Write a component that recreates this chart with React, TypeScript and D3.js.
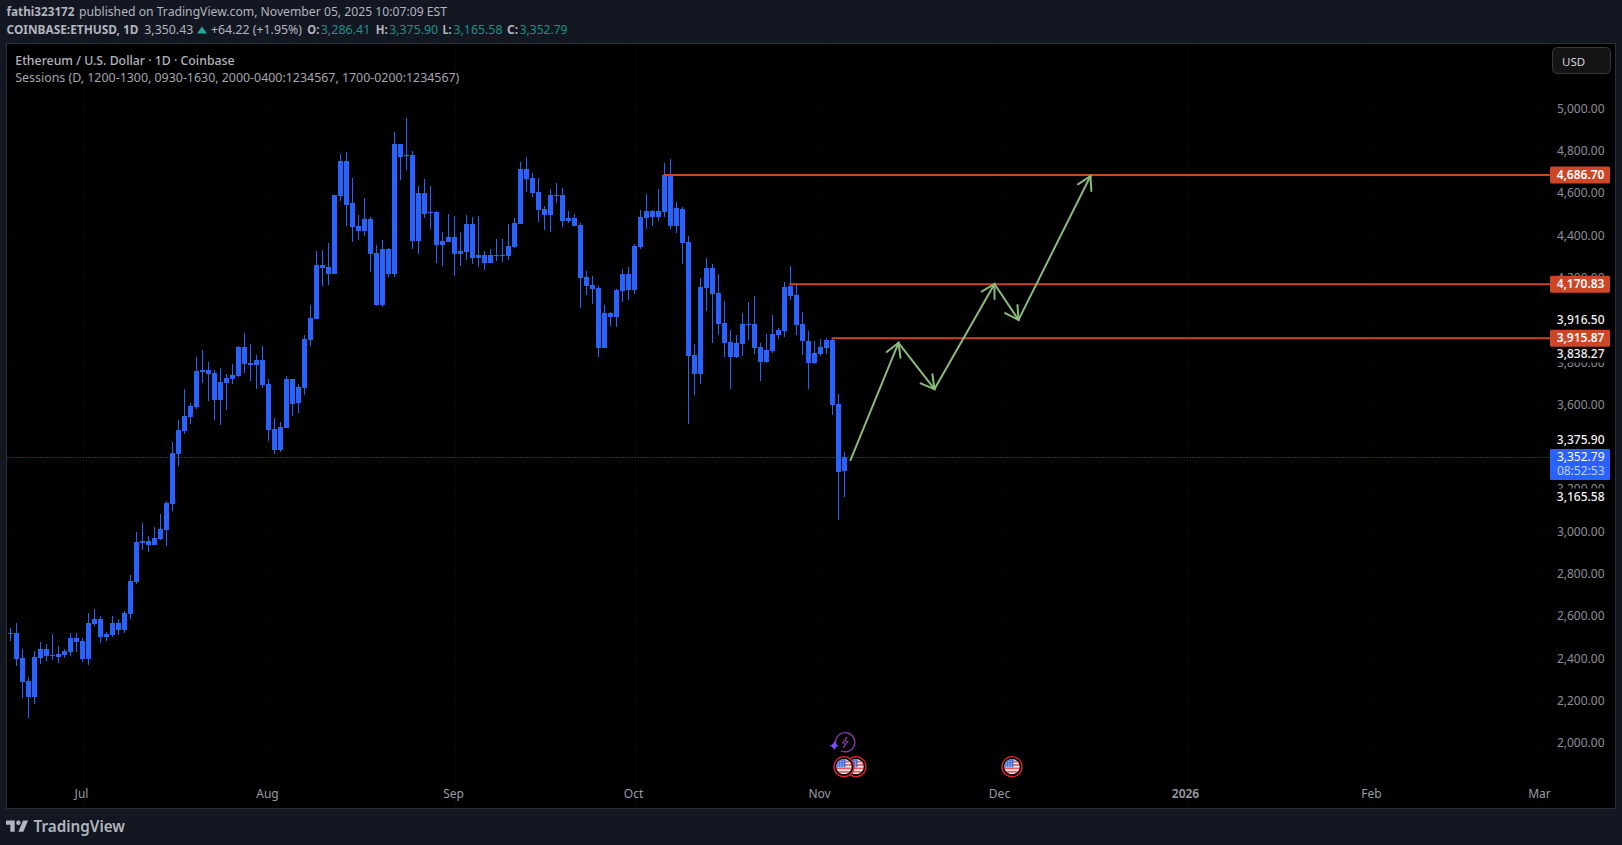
import React, { useEffect, useRef } from 'react';
import * as d3 from 'd3';

const WIDTH = 1622;
const HEIGHT = 845;
const FONT = '"Noto Sans", sans-serif';

// daily candles, first one is 19 Jun 2025, last one 5 Nov 2025
const firstDay = Date.UTC(2025, 5, 19);
const DAY = 86400000;

const candleHigh = [
  2546, 2570, 2447, 2315, 2437, 2480, 2471, 2518, 2461, 2447,
  2522, 2522, 2499, 2617, 2636, 2603, 2527, 2603, 2589, 2626,
  2797, 3000, 3042, 2981, 3023, 3085, 3146, 3425, 3529, 3676,
  3609, 3827, 3860, 3803, 3765, 3775, 3746, 3794, 3879, 3940,
  3888, 3836, 3879, 3723, 3538, 3520, 3737, 3723, 3699, 3931,
  4073, 4328, 4332, 4365, 4592, 4786, 4796, 4673, 4498, 4578,
  4488, 4356, 4380, 4342, 4890, 4833, 4956, 4800, 4635, 4668,
  4635, 4517, 4417, 4503, 4493, 4417, 4498, 4488, 4493, 4328,
  4337, 4384, 4384, 4455, 4484, 4748, 4772, 4696, 4673, 4540,
  4621, 4649, 4625, 4517, 4503, 4460, 4233, 4210, 4162, 4073,
  4039, 4148, 4243, 4252, 4361, 4521, 4597, 4521, 4621, 4743,
  4762, 4559, 4536, 4399, 3888, 4200, 4295, 4266, 4219, 4091,
  3954, 3931, 4035, 4087, 4115, 3893, 3935, 4025, 3964, 4181,
  4257, 4176, 4039, 3950, 3902, 3912, 3917, 3917, 3652, 3375.9,
];

const candleTop = [
  2522, 2522, 2404, 2296, 2409, 2447, 2447, 2419, 2423, 2437,
  2499, 2499, 2485, 2570, 2589, 2589, 2518, 2570, 2570, 2617,
  2768, 2952, 2957, 2957, 2971, 3014, 3137, 3373, 3482, 3548,
  3595, 3761, 3765, 3765, 3751, 3709, 3728, 3742, 3874, 3874,
  3798, 3813, 3813, 3699, 3486, 3496, 3723, 3723, 3685, 3912,
  4011, 4262, 4262, 4252, 4592, 4753, 4753, 4555, 4446, 4479,
  4479, 4318, 4337, 4337, 4833, 4833, 4781, 4781, 4602, 4602,
  4512, 4512, 4375, 4394, 4394, 4328, 4455, 4455, 4309, 4309,
  4309, 4309, 4309, 4351, 4460, 4715, 4715, 4673, 4606, 4526,
  4592, 4592, 4592, 4484, 4484, 4451, 4205, 4167, 4153, 4035,
  4035, 4143, 4219, 4219, 4351, 4488, 4517, 4517, 4517, 4687,
  4687, 4531, 4526, 4370, 3836, 4158, 4247, 4247, 4129, 3987,
  3898, 3893, 3983, 3983, 3983, 3874, 3860, 3935, 3954, 4158,
  4162, 4120, 3983, 3902, 3846, 3874, 3907, 3907, 3605, 3352.79,
];

const candleBottom = [
  2518, 2400, 2291, 2220, 2220, 2404, 2414, 2414, 2409, 2419,
  2433, 2480, 2400, 2400, 2565, 2504, 2504, 2513, 2537, 2537,
  2612, 2763, 2948, 2938, 2938, 2967, 3009, 3132, 3368, 3477,
  3543, 3591, 3756, 3746, 3624, 3624, 3704, 3723, 3737, 3794,
  3789, 3789, 3695, 3482, 3387, 3387, 3491, 3605, 3609, 3680,
  3907, 4006, 4247, 4219, 4219, 4588, 4545, 4441, 4422, 4422,
  4314, 4072, 4072, 4219, 4219, 4772, 4777, 4375, 4375, 4503,
  4507, 4356, 4356, 4370, 4314, 4314, 4323, 4295, 4295, 4271,
  4271, 4304, 4304, 4304, 4347, 4455, 4668, 4602, 4521, 4498,
  4498, 4588, 4469, 4469, 4446, 4200, 4162, 4148, 3869, 3869,
  4016, 4016, 4139, 4143, 4143, 4347, 4484, 4488, 4488, 4512,
  4446, 4446, 4365, 3831, 3746, 3746, 4153, 4124, 3983, 3893,
  3827, 3827, 3888, 3978, 3869, 3803, 3803, 3855, 3931, 3950,
  4115, 3978, 3902, 3798, 3798, 3841, 3869, 3600, 3283, 3286.41,
];

const candleLow = [
  2485, 2367, 2215, 2121, 2187, 2376, 2390, 2395, 2381, 2404,
  2414, 2433, 2385, 2371, 2556, 2475, 2485, 2504, 2513, 2522,
  2589, 2754, 2915, 2905, 2938, 2962, 2934, 3099, 3312, 3463,
  3510, 3581, 3704, 3619, 3529, 3505, 3576, 3699, 3732, 3751,
  3713, 3676, 3680, 3430, 3368, 3380, 3491, 3548, 3562, 3647,
  3879, 4006, 4162, 4167, 4219, 4564, 4446, 4370, 4380, 4399,
  4228, 4068, 4063, 4205, 4205, 4663, 4710, 4337, 4314, 4484,
  4432, 4271, 4257, 4370, 4210, 4257, 4285, 4266, 4252, 4238,
  4271, 4280, 4276, 4285, 4342, 4455, 4606, 4583, 4465, 4427,
  4417, 4554, 4441, 4460, 4446, 4058, 4120, 4077, 3827, 3869,
  3973, 3969, 4087, 4096, 4124, 4337, 4432, 4446, 4469, 4488,
  4432, 4413, 4266, 3510, 3647, 3699, 4044, 3893, 3931, 3827,
  3676, 3822, 3831, 3907, 3841, 3713, 3798, 3846, 3912, 3921,
  4096, 3931, 3836, 3676, 3794, 3831, 3841, 3553, 3056, 3165.58,
];

const priceTicks = [2000, 2200, 2400, 2600, 2800, 3000, 3200, 3400, 3600, 3800, 4000, 4200, 4400, 4600, 4800, 5000];
// these two sit fully behind the axis marks, only their grid lines show
const hiddenTickLabels = [3400, 4000];
const monthTicks = [
  new Date(Date.UTC(2025, 6, 1)),
  new Date(Date.UTC(2025, 7, 1)),
  new Date(Date.UTC(2025, 8, 1)),
  new Date(Date.UTC(2025, 9, 1)),
  new Date(Date.UTC(2025, 10, 1)),
  new Date(Date.UTC(2025, 11, 1)),
  new Date(Date.UTC(2026, 0, 1)),
  new Date(Date.UTC(2026, 1, 1)),
  new Date(Date.UTC(2026, 2, 1)),
];
const monthLabels = ['Jul', 'Aug', 'Sep', 'Oct', 'Nov', 'Dec', '2026', 'Feb', 'Mar'];

// drawn levels: price and the day they start on
const levelPrices = [4686.7, 4170.83, 3915.87];
const levelStarts = [
  new Date(Date.UTC(2025, 9, 6)),
  new Date(Date.UTC(2025, 9, 27)),
  new Date(Date.UTC(2025, 10, 3)),
];

// projected path
const pathDates = [
  new Date(Date.UTC(2025, 10, 6)),
  new Date(Date.UTC(2025, 10, 14)),
  new Date(Date.UTC(2025, 10, 20)),
  new Date(Date.UTC(2025, 10, 30)),
  new Date(Date.UTC(2025, 11, 4)),
  new Date(Date.UTC(2025, 11, 16)),
];
const pathPrices = [3340, 3894, 3675, 4172, 4002, 4682];

const lastPrice = 3352.79;
const ohlcMarks = [
  { text: '3,916.50', y: 320 },
  { text: '3,838.27', y: 354 },
  { text: '3,375.90', y: 440 },
  { text: '3,165.58', y: 497 },
];

const flagDates = [
  new Date(Date.UTC(2025, 10, 5)),
  new Date(Date.UTC(2025, 10, 7)),
  new Date(Date.UTC(2025, 11, 3)),
];

const PANE = { left: 6.5, top: 43.5, right: 1615.5, bottom: 808.5 };
const AXIS_TEXT_RIGHT = 1604.5;
const LABEL_LEFT = 1550;
const LABEL_RIGHT = 1610;

const xScale = d3.scaleUtc()
  .domain([new Date(firstDay), new Date(Date.UTC(2026, 2, 1))])
  .range([10.5, 1540.5]);

const yScale = d3.scaleLinear().domain([2000, 5000]).range([743.6, 108.7]);

const App: React.FC = () => {
  const svgRef = useRef<SVGSVGElement>(null);

  useEffect(() => {
    if (!svgRef.current) return;
    const svg = d3.select(svgRef.current);
    svg.selectAll('*').remove();

    svg.append('rect').attr('width', WIDTH).attr('height', HEIGHT).attr('fill', '#131722');
    svg.append('rect')
      .attr('x', PANE.left).attr('y', PANE.top)
      .attr('width', PANE.right - PANE.left).attr('height', PANE.bottom - PANE.top)
      .attr('fill', '#000').attr('stroke', '#2a2e39');

    const defs = svg.append('defs');
    defs.append('clipPath').attr('id', 'flag-clip').append('circle').attr('r', 7.6);

    // Grid
    const grid = svg.append('g').attr('stroke', '#ffffff').attr('stroke-opacity', 0.02);
    priceTicks.forEach(p => {
      const y = Math.round(yScale(p)) + 0.5;
      grid.append('line').attr('x1', PANE.left + 1).attr('x2', PANE.right - 1).attr('y1', y).attr('y2', y);
    });
    monthTicks.forEach(d => {
      const x = Math.round(xScale(d)) + 0.5;
      grid.append('line').attr('x1', x).attr('x2', x).attr('y1', PANE.top + 1).attr('y2', PANE.bottom - 1);
    });

    // Candles
    const candles = svg.append('g').attr('fill', '#2962ff');
    candleHigh.forEach((high, i) => {
      const x = xScale(new Date(firstDay + i * DAY));
      const top = Math.round(yScale(candleTop[i]));
      const bottom = Math.round(yScale(candleBottom[i]));
      const wickTop = Math.round(yScale(high));
      const wickBottom = Math.round(yScale(candleLow[i]));
      candles.append('rect')
        .attr('x', x - 0.5).attr('y', wickTop)
        .attr('width', 1).attr('height', wickBottom - wickTop);
      candles.append('rect')
        .attr('x', x - 2.5).attr('y', top)
        .attr('width', 5).attr('height', Math.max(1, bottom - top));
    });

    // Last price dotted line
    const lastY = Math.round(yScale(lastPrice)) + 0.5;
    svg.append('line')
      .attr('x1', PANE.left + 1).attr('x2', LABEL_LEFT)
      .attr('y1', lastY).attr('y2', lastY)
      .attr('stroke', '#2962ff').attr('stroke-dasharray', '1 2');

    // Levels
    levelPrices.forEach((p, i) => {
      svg.append('line')
        .attr('x1', xScale(levelStarts[i]) - 1).attr('x2', LABEL_LEFT)
        .attr('y1', yScale(p)).attr('y2', yScale(p))
        .attr('stroke', '#cc4628').attr('stroke-width', 2);
    });

    // Projected arrows
    const arrows = svg.append('g')
      .attr('stroke', '#8abb7a').attr('stroke-width', 2).attr('fill', 'none').attr('stroke-linecap', 'round');
    const pts = pathDates.map((d, i) => [xScale(d), yScale(pathPrices[i])]);
    pts.slice(1).forEach((tip, i) => {
      const from = pts[i];
      const ang = Math.atan2(tip[1] - from[1], tip[0] - from[0]);
      const headLen = 15;
      const spread = 0.52;
      const head = [ang + Math.PI - spread, ang + Math.PI + spread]
        .map(a => [tip[0] + headLen * Math.cos(a), tip[1] + headLen * Math.sin(a)]);
      arrows.append('path').attr('d', d3.line()([from, tip] as [number, number][]));
      arrows.append('path').attr('d', d3.line()([head[0], tip, head[1]] as [number, number][]));
    });

    // Price axis
    const yAxis = svg.append('g')
      .attr('transform', `translate(${AXIS_TEXT_RIGHT},-0.5)`)
      .call(d3.axisLeft(yScale)
        .tickValues(priceTicks.filter(p => !hiddenTickLabels.includes(p)))
        .tickFormat(d3.format(',.2f') as any).tickSize(0).tickPadding(0));
    yAxis.select('.domain').remove();
    yAxis.selectAll('text')
      .attr('fill', '#8c8f98').style('font-family', FONT).style('font-size', '12px');

    // Time axis
    const xAxis = svg.append('g')
      .attr('transform', 'translate(-1.5,789)')
      .call(d3.axisBottom(xScale).tickValues(monthTicks).tickFormat((_, i) => monthLabels[i]).tickSize(0).tickPadding(0));
    xAxis.select('.domain').remove();
    xAxis.selectAll('text')
      .attr('fill', '#9a9da6').style('font-family', FONT).style('font-size', '12px')
      .style('font-weight', (_, i) => (monthLabels[i] === '2026' ? 600 : 400));

    // Open/high/low/close marks on the axis
    ohlcMarks.forEach(m => {
      svg.append('rect')
        .attr('x', LABEL_LEFT).attr('y', m.y - 8.5)
        .attr('width', LABEL_RIGHT - LABEL_LEFT).attr('height', 17).attr('fill', '#000');
      svg.append('text')
        .attr('x', AXIS_TEXT_RIGHT).attr('y', m.y + 4.3)
        .attr('text-anchor', 'end').attr('fill', '#f2f2f2')
        .style('font-family', FONT).style('font-size', '12px').style('font-weight', 500)
        .text(m.text);
    });

    // Level labels
    levelPrices.forEach(p => {
      const y = yScale(p);
      svg.append('rect')
        .attr('x', LABEL_LEFT).attr('y', y - 8.5)
        .attr('width', LABEL_RIGHT - LABEL_LEFT).attr('height', 17)
        .attr('rx', 1.5).attr('fill', '#cc4628');
      svg.append('text')
        .attr('x', AXIS_TEXT_RIGHT).attr('y', y + 4.3)
        .attr('text-anchor', 'end').attr('fill', '#fff')
        .style('font-family', FONT).style('font-size', '12px').style('font-weight', 600)
        .text(d3.format(',.2f')(p));
    });

    // Last price label
    svg.append('rect')
      .attr('x', LABEL_LEFT).attr('y', 449)
      .attr('width', LABEL_RIGHT - LABEL_LEFT).attr('height', 31)
      .attr('rx', 1.5).attr('fill', '#2962ff');
    svg.append('text')
      .attr('x', AXIS_TEXT_RIGHT).attr('y', 461.3)
      .attr('text-anchor', 'end').attr('fill', '#fff')
      .style('font-family', FONT).style('font-size', '12px')
      .text(d3.format(',.2f')(lastPrice));
    svg.append('text')
      .attr('x', AXIS_TEXT_RIGHT).attr('y', 475.3)
      .attr('text-anchor', 'end').attr('fill', '#bfd0ff')
      .style('font-family', FONT).style('font-size', '12px')
      .text('08:52:53');

    // USD button
    svg.append('rect')
      .attr('x', 1552.5).attr('y', 47.5).attr('width', 58).attr('height', 26).attr('rx', 5)
      .attr('fill', '#141414').attr('stroke', '#3a3a3a');
    svg.append('text')
      .attr('x', 1562).attr('y', 66)
      .attr('fill', '#d1d4dc').style('font-family', FONT).style('font-size', '11.5px')
      .text('USD');

    // Header and legend text
    const label = (x: number, y: number, text: string, fill: string, weight = 400, size = 13, len?: number) => {
      const t = svg.append('text')
        .attr('x', x).attr('y', y).attr('fill', fill)
        .style('font-family', FONT).style('font-size', `${size}px`).style('font-weight', weight)
        .text(text);
      if (len) t.attr('textLength', len).attr('lengthAdjust', 'spacingAndGlyphs');
    };
    const headColor = '#b2b5be';
    const valueColor = '#1f8f85';
    label(6.5, 16, 'fathi323172', headColor, 700, 13, 68);
    label(79, 16, 'published on TradingView.com, November 05, 2025 10:07:09 EST', headColor, 400, 13, 368);
    label(6.5, 33.5, 'COINBASE:ETHUSD, 1D', headColor, 700, 13, 132);
    label(144.3, 33.5, '3,350.43', headColor, 400, 13, 49);
    svg.append('path').attr('d', 'M202 26.5L207 33.5H197Z').attr('fill', '#26a69a');
    label(211, 33.5, '+64.22 (+1.95%)', headColor, 400, 13, 91);
    label(307.3, 33.5, 'O:', headColor, 700, 13, 12);
    label(320.7, 33.5, '3,286.41', valueColor, 400, 13, 49.8);
    label(375.8, 33.5, 'H:', headColor, 700, 13, 12);
    label(389.2, 33.5, '3,375.90', valueColor, 400, 13, 49);
    label(442.4, 33.5, 'L:', headColor, 700, 13, 9);
    label(453.5, 33.5, '3,165.58', valueColor, 400, 13, 49);
    label(507, 33.5, 'C:', headColor, 700, 13, 11);
    label(519.7, 33.5, '3,352.79', valueColor, 400, 13, 47.8);
    label(15.3, 65, 'Ethereum / U.S. Dollar · 1D · Coinbase', headColor, 500, 13, 219.3);
    label(15.3, 82, 'Sessions (D, 1200-1300, 0930-1630, 2000-0400:1234567, 1700-0200:1234567)', '#a3a6af', 400, 13, 444);

    // Event icons
    const eventX = xScale(new Date(Date.UTC(2025, 10, 5)));
    const bolt = svg.append('g').attr('transform', `translate(${eventX + 0.7},742.3)`);
    bolt.append('path')
      .attr('d', d3.arc()({ innerRadius: 9.6, outerRadius: 9.6, startAngle: -1.9, endAngle: 3.6 } as any))
      .attr('fill', 'none').attr('stroke', '#8e3aa8').attr('stroke-width', 1.3);
    bolt.append('path')
      .attr('d', 'M1.8 -5.5L-3 0.8H0.2L-1.8 5.5L3 -0.8H-0.2Z')
      .attr('fill', 'none').attr('stroke', '#8e3aa8').attr('stroke-width', 1);
    svg.append('path')
      .attr('transform', `translate(${eventX - 10.3},745.7)`)
      .attr('d', 'M0 -5Q0.8 -0.8 5 0Q0.8 0.8 0 5Q-0.8 0.8 -5 0Q-0.8 -0.8 0 -5Z')
      .attr('fill', '#7c4dff');

    [...flagDates].reverse().forEach(d => {
      const g = svg.append('g').attr('transform', `translate(${xScale(d) - 0.5},766.7)`);
      g.append('circle').attr('r', 10).attr('fill', '#000').attr('stroke', '#e8222f').attr('stroke-width', 1.3);
      const flag = g.append('g').attr('clip-path', 'url(#flag-clip)');
      flag.append('rect').attr('x', -8).attr('y', -8).attr('width', 16).attr('height', 16).attr('fill', '#f1f1f1');
      [-6, -2.6, 0.8, 4.2].forEach(y => {
        flag.append('rect').attr('x', -8).attr('y', y).attr('width', 16).attr('height', 1.8).attr('fill', '#ef5a62');
      });
      flag.append('rect').attr('x', -8).attr('y', -8).attr('width', 9.5).attr('height', 8.5).attr('fill', '#3f73d8');
      [-5.8, -3.2, -0.8].forEach(x => {
        [-5.5, -3, -0.8].forEach(y => {
          flag.append('circle').attr('cx', x).attr('cy', y).attr('r', 0.55).attr('fill', '#fff');
        });
      });
    });

    // Logo
    const logo = svg.append('g').attr('transform', 'translate(6,820.5) scale(0.62)').attr('fill', '#b2b5be');
    logo.append('path').attr('d', 'M14 18H7V7H0V0h14v18zM28 18h-8L27.5 0h8L28 18z');
    logo.append('circle').attr('cx', 20).attr('cy', 3.6).attr('r', 3.6);
    label(33.5, 832, 'TradingView', '#b2b5be', 600, 16.5, 91.5);
  }, []);

  return (
    <svg
      ref={svgRef}
      width={WIDTH}
      height={HEIGHT}
      style={{ position: 'absolute', left: 0, top: 0, display: 'block' }}
    />
  );
};

export default App;
